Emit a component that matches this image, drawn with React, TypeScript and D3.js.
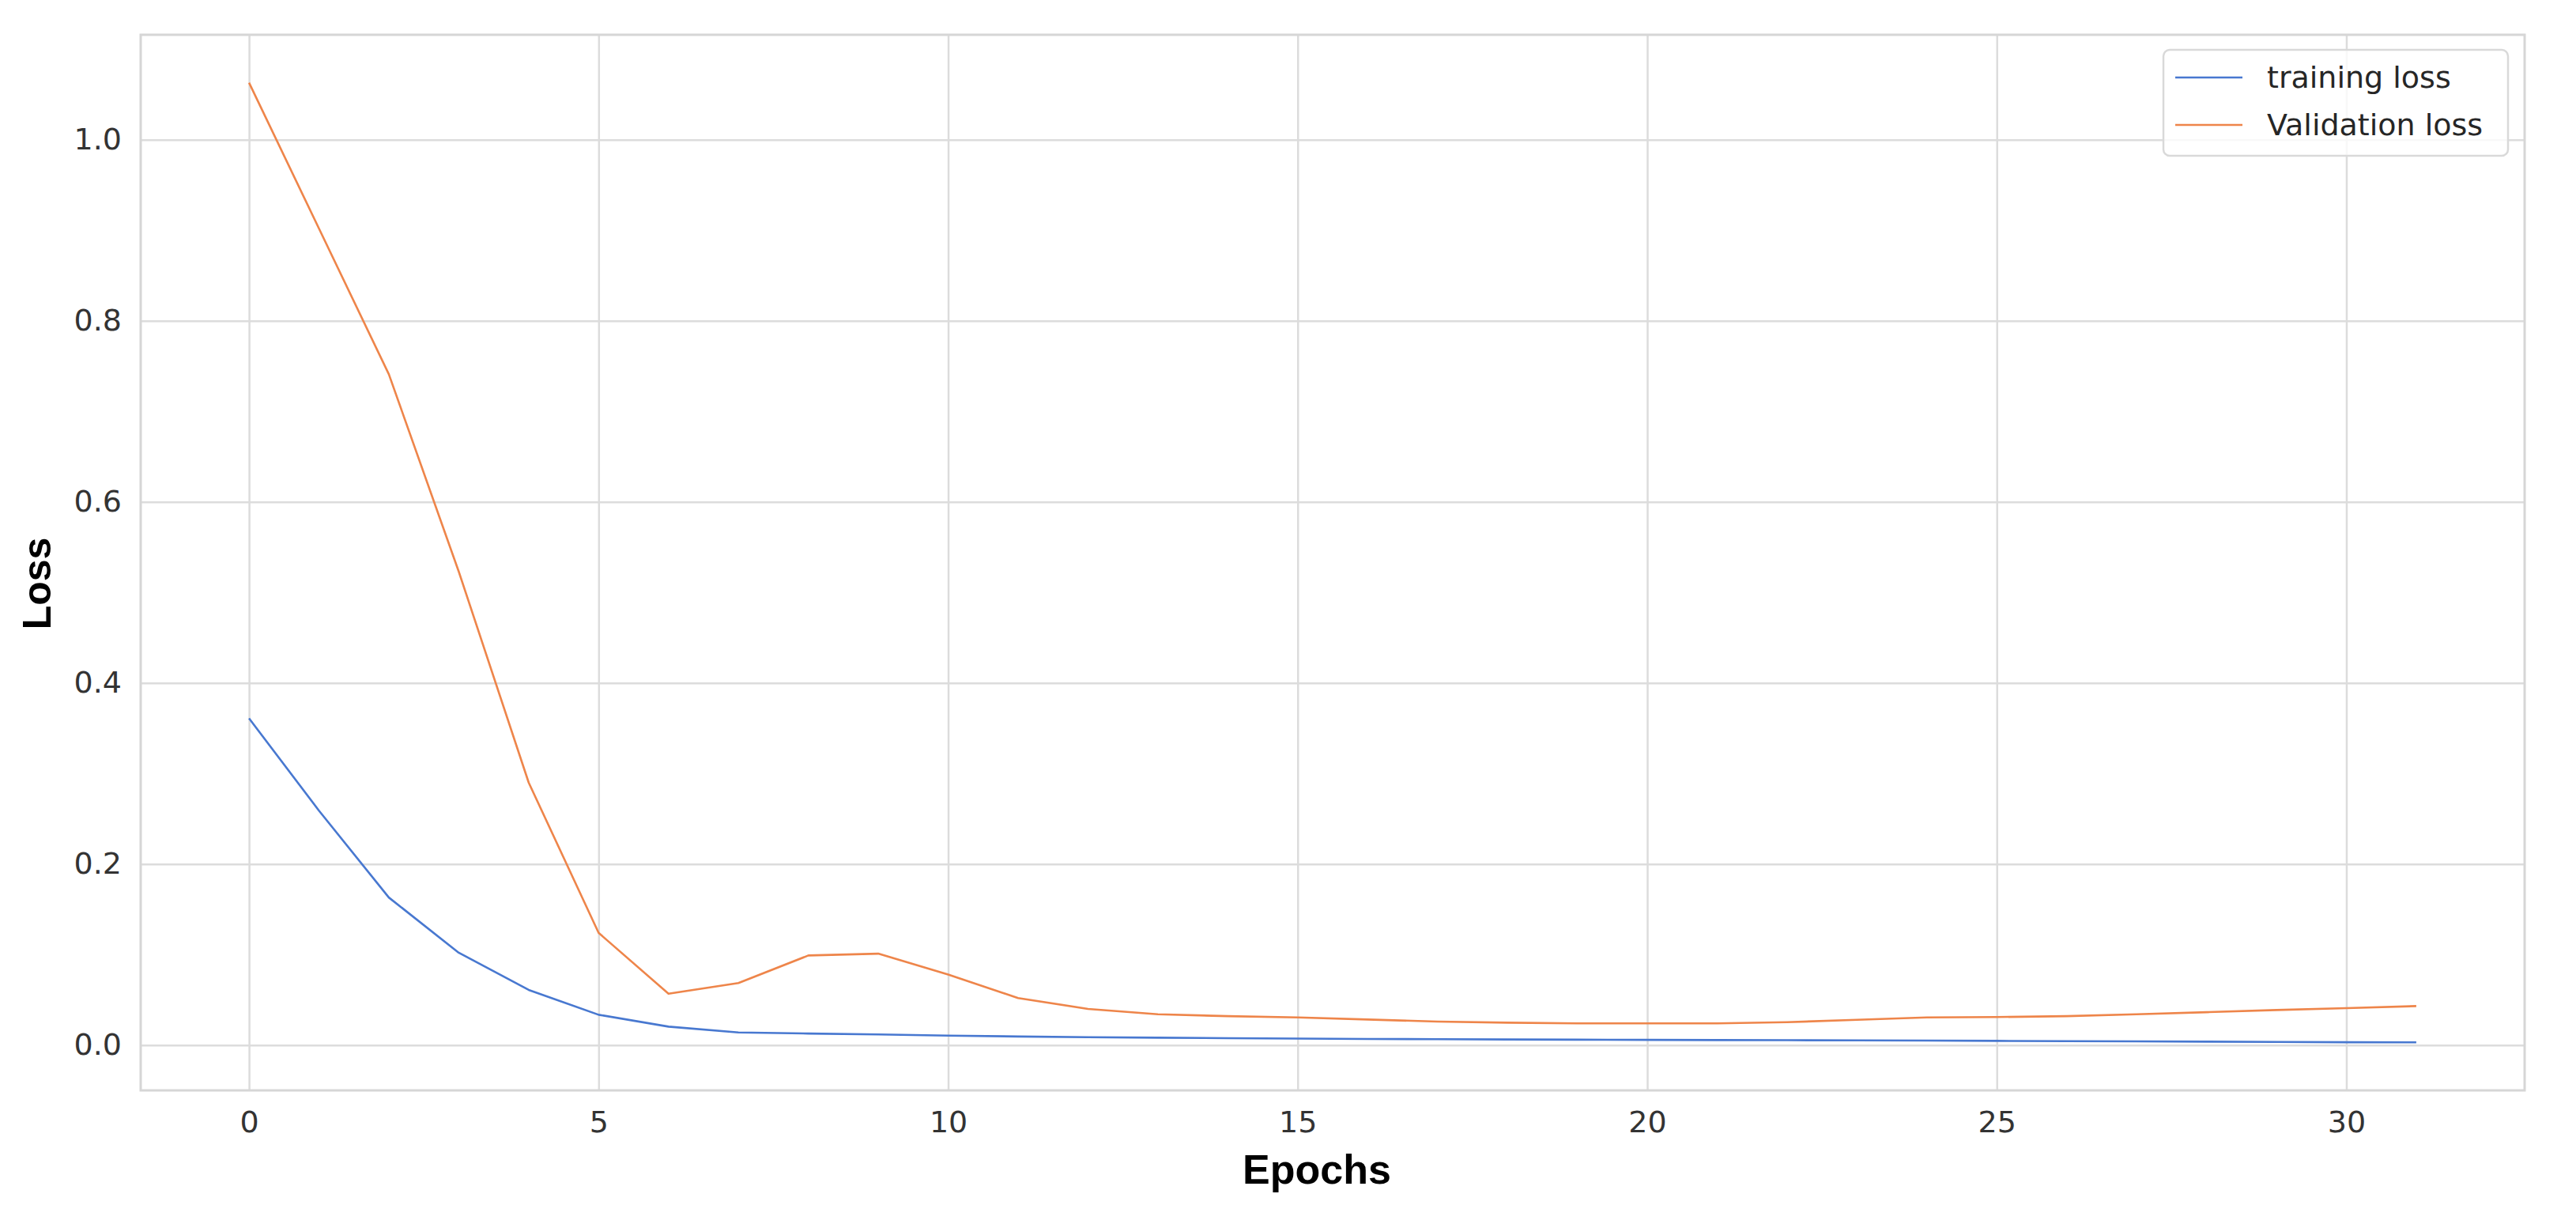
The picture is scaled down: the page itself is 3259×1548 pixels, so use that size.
import React, { useEffect, useRef } from 'react';
import * as d3 from 'd3';

// values
const epochs = d3.range(0, 32);
const trainingLoss = [
  0.361, 0.259, 0.163, 0.102, 0.061, 0.0335, 0.0204, 0.014, 0.0128, 0.0118,
  0.0105, 0.0095, 0.0088, 0.0082, 0.0077, 0.0072, 0.0068, 0.0065, 0.0062, 0.006,
  0.0058, 0.0056, 0.0054, 0.0052, 0.005, 0.0047, 0.0044, 0.0041, 0.0038, 0.0035,
  0.0032, 0.003,
];
const validationLoss = [
  1.063, 0.902, 0.741, 0.523, 0.29, 0.124, 0.0568, 0.0685, 0.099, 0.101,
  0.078, 0.052, 0.04, 0.034, 0.032, 0.0306, 0.0283, 0.026, 0.0248, 0.024,
  0.024, 0.024, 0.0253, 0.028, 0.0306, 0.031, 0.032, 0.034, 0.0364, 0.0388,
  0.0408, 0.0431,
];
const xTicks = [0, 5, 10, 15, 20, 25, 30];
const yTicks = [0, 0.2, 0.4, 0.6, 0.8, 1.0];
const seriesNames = ['training loss', 'Validation loss'];
const seriesColors = ['#4878d0', '#ee854a'];

const App = () => {
  const svgRef = useRef<SVGSVGElement>(null);

  useEffect(() => {
    const svgWidth = 3259;
    const svgHeight = 1548;
    const margin = { top: 44, right: 65, bottom: 169, left: 178 };
    const chartWidth = svgWidth - margin.left - margin.right;
    const chartHeight = svgHeight - margin.top - margin.bottom;

    const svg = d3.select(svgRef.current)
                  .attr('width', svgWidth)
                  .attr('height', svgHeight);
    svg.selectAll('*').remove();

    svg.append('rect')
       .attr('width', svgWidth)
       .attr('height', svgHeight)
       .attr('fill', '#ffffff');

    // matplotlib style 5% margins around the data
    const xScale = d3.scaleLinear()
                     .domain([-1.55, 32.55])
                     .range([0, chartWidth]);

    const yMin = d3.min(trainingLoss) as number;
    const yMax = d3.max(validationLoss) as number;
    const pad = (yMax - yMin) * 0.05;
    const yScale = d3.scaleLinear()
                     .domain([yMin - pad, yMax + pad])
                     .range([chartHeight, 0]);

    const g = svg.append('g')
                 .attr('transform', `translate(${margin.left}, ${margin.top})`);

    // grid lines
    const xAxis = g.append('g')
                   .attr('transform', `translate(0, ${chartHeight})`)
                   .call(d3.axisBottom(xScale)
                           .tickValues(xTicks)
                           .tickSize(-chartHeight)
                           .tickPadding(26)
                           .tickFormat(d3.format('d')));

    const yAxis = g.append('g')
                   .call(d3.axisLeft(yScale)
                           .tickValues(yTicks)
                           .tickSize(-chartWidth)
                           .tickPadding(24)
                           .tickFormat(d3.format('.1f')));

    [xAxis, yAxis].forEach(ax => {
      ax.select('.domain').remove();
      ax.selectAll('.tick line')
        .attr('stroke', '#dcdcdc')
        .attr('stroke-width', 2.5);
      ax.selectAll('.tick text')
        .attr('fill', '#333333')
        .style('font-family', '"DejaVu Sans", sans-serif')
        .style('font-size', '38px');
    });

    // axes frame
    g.append('rect')
     .attr('width', chartWidth)
     .attr('height', chartHeight)
     .attr('fill', 'none')
     .attr('stroke', '#d6d6d6')
     .attr('stroke-width', 3);

    const lineGenerator = d3.line<number>()
                            .x((d, i) => xScale(epochs[i]))
                            .y(d => yScale(d));

    [trainingLoss, validationLoss].forEach((series, i) => {
      g.append('path')
       .datum(series)
       .attr('fill', 'none')
       .attr('stroke', seriesColors[i])
       .attr('stroke-width', 2.6)
       .attr('stroke-linejoin', 'round')
       .attr('d', lineGenerator);
    });

    // axis titles
    svg.append('text')
       .attr('x', margin.left + chartWidth / 2 - 20)
       .attr('y', 1497)
       .attr('text-anchor', 'middle')
       .style('font-family', '"Liberation Sans", Arial, sans-serif')
       .style('font-weight', 'bold')
       .style('font-size', '52px')
       .attr('fill', '#000000')
       .text('Epochs');

    svg.append('text')
       .attr('transform', `translate(64, 738) rotate(-90)`)
       .attr('text-anchor', 'middle')
       .style('font-family', '"Liberation Sans", Arial, sans-serif')
       .style('font-weight', 'bold')
       .style('font-size', '50px')
       .attr('fill', '#000000')
       .text('Loss');

    // legend
    const legend = svg.append('g')
                      .attr('transform', 'translate(2737, 63)');
    legend.append('rect')
          .attr('width', 436)
          .attr('height', 134)
          .attr('rx', 8)
          .attr('fill', '#ffffff')
          .attr('fill-opacity', 0.8)
          .attr('stroke', '#d9d9d9')
          .attr('stroke-width', 2.5);

    seriesNames.forEach((name, i) => {
      const row = legend.append('g')
                        .attr('transform', `translate(0, ${35 + i * 60})`);
      row.append('line')
         .attr('x1', 15)
         .attr('x2', 100)
         .attr('stroke', seriesColors[i])
         .attr('stroke-width', 2.6);
      row.append('text')
         .attr('x', 131)
         .attr('y', 13)
         .style('font-family', '"DejaVu Sans", sans-serif')
         .style('font-size', '38px')
         .attr('fill', '#262626')
         .text(name);
    });
  }, []);

  return <svg ref={svgRef} style={{ position: 'absolute', left: 0, top: 0, display: 'block' }}></svg>;
};

export default App;
